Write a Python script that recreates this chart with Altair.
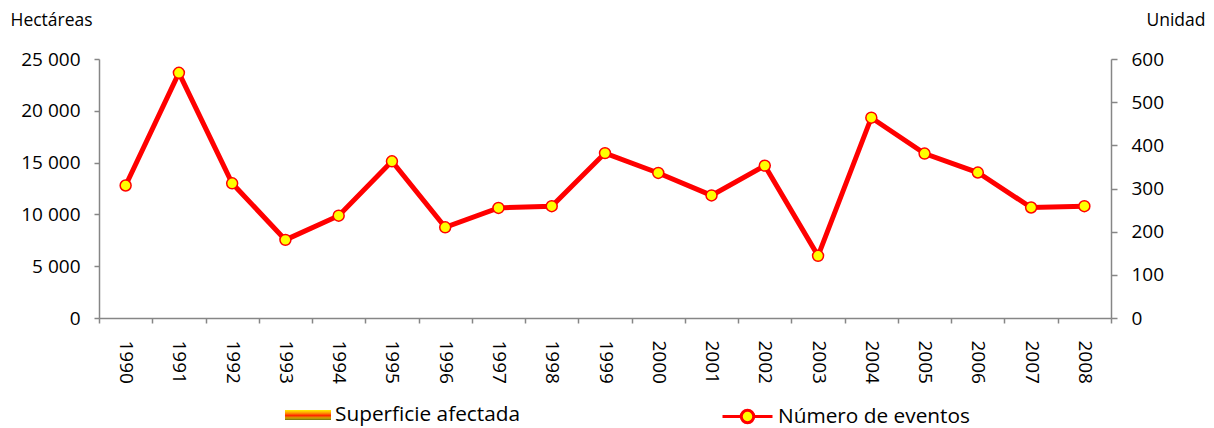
import altair as alt
import pandas as pd

# ---- data ----
years = [str(y) for y in range(1990, 2009)]
eventos = [307, 568, 312, 181, 237, 363, 210, 255, 259, 382, 336, 284, 353, 144, 464, 381, 337, 256, 259]
superficie = [0] * 19  # no bars visible in the reference
serie_sup = "Superficie afectada"
serie_ev = "Número de eventos"
left_ticks = [0, 5000, 10000, 15000, 20000, 25000]
right_ticks = [0, 100, 200, 300, 400, 500, 600]

df = pd.DataFrame({
    "anio": years,
    "eventos": eventos,
    "superficie": superficie,
    "serie_a": serie_sup,
    "serie_b": serie_ev,
})

FONT = "Open Sans"
GRAY = "#868686"
LBL = 19
LEG = 20.8

x_enc = alt.X(
    "anio:O",
    scale=alt.Scale(paddingInner=0, paddingOuter=0),
    axis=alt.Axis(
        title=None, labelAngle=90, tickBand="extent", tickSize=5,
        labelPadding=17, labelFont=FONT, labelFontSize=LBL, labelColor="#000",
        domainColor=GRAY, tickColor=GRAY, domainWidth=1.5, tickWidth=1.5,
    ),
)

bar_gradient = alt.LinearGradient(
    gradient="linear", x1=0, y1=0, x2=0, y2=1,
    stops=[
        alt.GradientStop(offset=0.0, color="#fff200"),
        alt.GradientStop(offset=0.3, color="#ff9a00"),
        alt.GradientStop(offset=0.55, color="#ff2a00"),
        alt.GradientStop(offset=0.8, color="#d0a800"),
        alt.GradientStop(offset=1.0, color="#6b6b10"),
    ],
)

bars = alt.Chart(df).mark_bar(color=bar_gradient).encode(
    x=x_enc,
    y=alt.Y(
        "superficie:Q",
        scale=alt.Scale(domain=[0, 25000], nice=False),
        axis=alt.Axis(
            title="Hectáreas", values=left_ticks,
            labelExpr="replace(format(datum.value, ','), ',', ' ')",
            titleAngle=0, titleX=-89, titleY=-34, titleAlign="left",
            titleBaseline="alphabetic", titleFont=FONT, titleFontSize=17.5,
            titleFontWeight="normal", titleColor="#000",
            grid=False, tickSize=5, labelPadding=14, labelFont=FONT,
            labelFontSize=LBL, labelColor="#000", domainColor=GRAY,
            tickColor=GRAY, domainWidth=1.5, tickWidth=1.5,
        ),
    ),
    opacity=alt.Opacity(
        "serie_a:N",
        scale=alt.Scale(domain=[serie_sup], range=[1]),
        legend=alt.Legend(
            title=None, orient="none", legendX=186, legendY=333, padding=0,
            symbolType="M-1,-0.22H1V0.22H-1Z", symbolSize=2116,
            symbolStrokeWidth=0, symbolOpacity=1,
            labelFont=FONT, labelFontSize=LEG, labelColor="#000", labelOffset=4,
            labelLimit=400,
        ),
    ),
)

y_right = alt.Y(
    "eventos:Q",
    scale=alt.Scale(domain=[0, 600], nice=False),
    axis=alt.Axis(
        orient="right", title="Unidad", values=right_ticks,
        titleAngle=0, titleX=94, titleY=-34, titleAlign="right",
        titleBaseline="alphabetic", titleFont=FONT, titleFontSize=17.5,
        titleFontWeight="normal", titleColor="#000",
        grid=False, tickSize=6, labelPadding=14, labelFont=FONT,
        labelFontSize=LBL, labelColor="#000", domainColor=GRAY,
        tickColor=GRAY, domainWidth=1.5, tickWidth=1.5,
    ),
)

line = alt.Chart(df).mark_line(strokeWidth=5).encode(
    x="anio:O",
    y=y_right,
    stroke=alt.Stroke(
        "serie_b:N",
        scale=alt.Scale(domain=[serie_ev], range=["#ff0000"]),
        legend=alt.Legend(
            title=None, orient="none", legendX=622, legendY=331, padding=0,
            symbolType="M-1,0H-0.25A0.25,0.25 0 1 1 0.25,0H1M0.25,0A0.25,0.25 0 1 1 -0.25,0",
            symbolSize=2500,
            symbolFillColor="#ffff00", symbolStrokeColor="#ff0000",
            symbolStrokeWidth=3,
            labelFont=FONT, labelFontSize=LEG, labelColor="#000", labelOffset=4,
            labelLimit=400,
        ),
    ),
)

points = alt.Chart(df).mark_circle(
    size=120, color="#ffff00", stroke="#ff0000", strokeWidth=1.5, opacity=1
).encode(x="anio:O", y="eventos:Q")

right = alt.layer(line, points)

chart = alt.layer(bars, right).resolve_scale(y="independent").properties(
    width=1012, height=259,
    autosize=alt.AutoSizeParams(type="none"),
    padding={"left": 91, "top": 51, "right": 95, "bottom": 110},
).configure_view(stroke=None)

chart.save("out.html", embed_options={"renderer": "svg", "actions": False})
